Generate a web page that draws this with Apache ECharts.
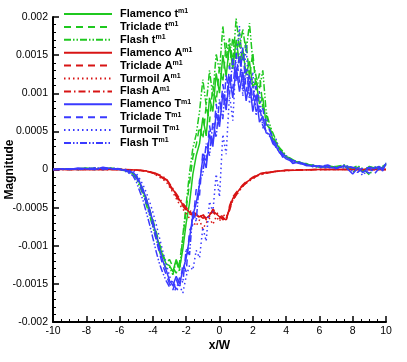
<!DOCTYPE html>
<html><head><meta charset="utf-8">
<script src="https://cdn.jsdelivr.net/npm/echarts@6/dist/echarts.min.js"></script>
<style>html,body{margin:0;padding:0;background:#fff}#c{width:407px;height:362px}</style>
</head><body><div id="c"></div>
<script>
// values in units of 1e-4
const SCALE = 1e-4;
const xT = [-10,-9.5,-9,-8.5,-8,-7.5,-7,-6.5,-6,
  -5.6,-5.2,
  -5.0,-4.8,-4.6,-4.4,-4.2,-4.0,-3.8,-3.6,-3.4,-3.2,
  -3.0,-2.8,-2.6,-2.4,-2.2,-2.0,-1.8,-1.6,-1.4,-1.2,
  -1.0,-0.8,-0.6,-0.4,-0.2,0,0.2,0.4,0.6,0.8,
  1.0,1.2,1.4,1.6,1.8,2.0,2.2,2.4,2.6,2.8,
  3.0,3.2,3.4,3.6,3.8,4.0,
  4.4,4.8,5.2,5.6,6.0,
  6.5,7.0,7.5,8.0,
  8.3,8.6,9.0,9.3,9.6,9.8,10];
const flamenco_t = [0,0.1,0,0.1,0.2,0,0.1,0.2,0,
  -0.2,-0.5,
  -0.9,-1.8,-2.8,-4.0,-5.4,-7.0,-8.6,-10.0,-11.4,-12.4,
  -12.6,-13.4,-11.8,-13.0,-10.4,-7.0,-4.4,-0.6,1.8,3.4,
  6.8,4.4,9.4,7.6,12.6,10.0,15.0,12.2,16.4,13.2,
  17.0,14.0,15.8,12.4,14.2,10.8,11.6,8.6,9.4,6.0,
  5.4,4.0,3.6,2.6,2.2,1.6,
  1.2,0.9,0.7,0.5,0.3,
  0.5,0.3,0.4,0.1,
  0.2,-0.3,0.4,0.2,0.1,0.3,0.6];
const triclade_t = [0.1,0,0.1,0,0.1,0.2,0,0.1,0.1,
  -0.1,-0.4,
  -0.8,-1.6,-2.6,-3.8,-5.2,-6.6,-8.2,-9.8,-11.2,-12.2,
  -11.8,-12.8,-13.6,-12.2,-9.0,-5.2,-1.8,1.6,3.2,5.6,
  4.0,8.4,6.2,11.0,8.8,13.4,11.4,16.6,13.4,17.4,
  14.2,18.0,14.0,16.8,12.0,15.4,10.4,12.6,8.2,7.2,
  5.6,4.4,3.4,3.0,2.0,1.8,
  1.1,1.0,0.6,0.6,0.3,
  0.4,0.2,0.5,-0.4,
  0.3,-0.2,0.3,0.1,0.4,0.2,0.7];
const flash_t = [0,0.1,0.1,0,0.1,0.1,0.2,0,0.1,
  -0.2,-0.6,
  -1.2,-2.2,-3.2,-4.6,-6.0,-7.6,-9.2,-10.8,-12.0,-13.0,
  -12.8,-13.8,-12.0,-13.4,-8.6,-4.6,-0.4,2.8,4.6,7.6,
  11.8,8.4,13.0,9.6,15.2,12.8,18.8,14.6,17.2,14.0,
  19.8,16.0,18.4,15.4,19.2,14.2,12.2,10.6,13.0,7.6,
  6.0,4.8,3.8,2.8,2.4,1.8,
  1.3,0.8,0.8,0.4,0.4,
  0.3,0.4,0.6,0.2,
  0.5,0.1,-0.7,0.3,0.2,0.4,0.8];
const flamenco_T = [0,0.1,0,0.2,0.1,0,0.3,0.1,0,
  -0.1,-0.4,
  -0.8,-1.6,-2.6,-3.8,-5.2,-6.8,-8.6,-10.4,-12.0,-13.2,
  -14.6,-15.2,-14.0,-15.0,-13.2,-11.6,-9.0,-6.0,-4.4,-2.0,
  1.6,0.2,4.6,3.0,7.4,5.6,10.0,7.8,12.2,9.4,
  13.4,10.2,12.8,9.0,11.6,7.6,9.8,6.2,7.0,4.8,
  4.6,3.4,3.0,2.2,1.8,1.4,
  1.0,0.8,0.6,0.4,0.5,
  0.3,0.2,0.5,-0.6,
  0.2,-0.4,0.3,0.1,0.4,-0.2,0.8];
const triclade_T = [0,0,0.1,0.1,0,0.2,0.1,0,0.1,
  -0.2,-0.6,
  -1.0,-2.0,-3.0,-4.4,-5.8,-7.4,-9.2,-11.0,-12.6,-13.8,
  -15.0,-15.8,-14.4,-15.6,-12.4,-13.4,-8.0,-7.2,-2.6,-3.4,
  2.4,0.8,5.8,3.2,8.6,6.0,11.2,8.4,13.6,10.6,
  15.2,11.4,16.0,10.2,12.6,9.0,11.0,7.4,8.0,5.6,
  5.2,4.2,3.2,2.6,2.0,1.6,
  1.2,0.9,0.7,0.5,0.4,
  0.6,0.2,0.4,0.3,
  -0.4,0.3,0.2,-0.6,0.2,0.5,0.6];
const turmoil_T = [0,0.1,0.1,0,0.2,0.1,0,0.1,0,
  0,-0.2,
  -0.5,-1.2,-2.0,-3.0,-4.2,-5.6,-7.2,-9.0,-10.8,-12.4,
  -14.0,-15.2,-16.0,-15.2,-16.2,-14.0,-12.6,-13.2,-10.6,-11.6,
  -7.6,-9.4,-4.2,-5.6,-0.6,-3.6,4.6,2.0,9.8,6.4,
  14.6,18.8,9.6,16.4,8.6,12.8,7.0,10.4,5.4,6.8,
  5.2,3.6,4.0,2.4,2.2,1.6,
  1.2,1.0,0.6,0.4,0.3,
  0.2,0.4,0.2,-0.2,
  0.1,-0.8,0.2,0.4,0,0.3,0.5];
const flash_T = [0,0,0.1,0,0.1,0.2,0.1,0.2,0.1,
  -0.3,-0.8,
  -1.6,-2.8,-4.0,-5.6,-7.2,-9.0,-10.8,-12.4,-13.6,-14.6,
  -15.4,-14.6,-15.8,-14.2,-14.8,-10.4,-11.2,-5.4,-6.8,-1.4,
  -0.6,3.4,1.8,6.2,4.2,9.2,6.6,12.4,9.8,14.6,
  11.6,15.2,10.4,13.2,9.6,11.0,7.6,8.4,5.8,5.0,
  4.4,3.8,2.8,2.4,1.6,1.8,
  0.8,1.0,0.5,0.6,0.3,
  0.4,0.1,0.6,0.2,
  0.3,0.1,-0.5,0.2,0.3,0.1,0.9];

const xA = [-10,-8,-6,-5,-4.5,-4,-3.6,-3.2,-2.8,-2.4,
  -2.0,-1.8,-1.6,-1.4,-1.2,-1.0,-0.8,-0.6,-0.4,-0.2,0,0.2,0.4,0.6,0.8,1.0,1.2,1.4,1.6,1.8,2.0,
  2.4,2.8,3.2,3.6,4,
  5,6,8,10];
const flamenco_A = [0,0,0,-0.05,-0.15,-0.4,-0.8,-1.3,-2.6,-4.0,
  -5.2,-5.6,-5.8,-6.0,-6.2,-6.0,-6.4,-6.0,-5.4,-5.8,-6.2,-6.4,-6.6,-5.0,-3.8,-3.2,-2.6,-2.1,-1.7,-1.4,-1.1,
  -0.6,-0.4,-0.3,-0.2,-0.12,
  -0.05,0,0,0];
const triclade_A = [0,0,0,-0.05,-0.2,-0.45,-0.9,-1.4,-2.8,-4.2,
  -5.4,-5.8,-6.0,-6.2,-6.0,-6.4,-6.2,-5.8,-5.6,-6.0,-6.4,-6.2,-6.8,-4.8,-3.6,-3.0,-2.5,-2.0,-1.6,-1.3,-1.0,
  -0.55,-0.4,-0.3,-0.18,-0.1,
  -0.04,0,0,0];
const turmoil_A = [0,0,0,-0.1,-0.2,-0.5,-1.0,-1.6,-3.0,-4.6,
  -5.8,-6.4,-6.8,-7.4,-6.6,-7.8,-7.0,-6.4,-7.2,-6.2,-6.8,-5.8,-6.4,-5.2,-4.0,-3.4,-2.8,-2.2,-1.8,-1.5,-1.2,
  -0.7,-0.5,-0.3,-0.2,-0.15,
  -0.05,0,0,0];
const flash_A = [0,0,0,-0.05,-0.15,-0.35,-0.7,-1.2,-2.5,-3.8,
  -5.0,-5.4,-5.6,-5.8,-6.4,-5.8,-6.6,-6.2,-5.2,-5.6,-6.0,-6.6,-6.2,-5.4,-4.0,-3.4,-2.7,-2.2,-1.8,-1.4,-1.2,
  -0.65,-0.5,-0.32,-0.2,-0.1,
  -0.05,0,0,0];

const GREEN = '#1fc81f', RED = '#d81414', BLUE = '#3a3aff';
const SOLID = 'solid', DASH = [7,5], DOT = [1.5,3], DASHDOT = [7,3,1.5,3], DASHDOTDOT = [7,2,1.5,2,1.5,2];

const defs = [
  ['Flamenco t', xT, flamenco_t, GREEN, SOLID],
  ['Triclade t', xT, triclade_t, GREEN, DASH],
  ['Flash t', xT, flash_t, GREEN, DASHDOTDOT],
  ['Flamenco A', xA, flamenco_A, RED, SOLID],
  ['Triclade A', xA, triclade_A, RED, DASH],
  ['Turmoil A', xA, turmoil_A, RED, DOT],
  ['Flash A', xA, flash_A, RED, DASHDOT],
  ['Flamenco T', xT, flamenco_T, BLUE, SOLID],
  ['Triclade T', xT, triclade_T, BLUE, DASH],
  ['Turmoil T', xT, turmoil_T, BLUE, DOT],
  ['Flash T', xT, flash_T, BLUE, DASHDOTDOT]
];

const series = defs.map(([name, xs, ys, color, type]) => ({
  name, type: 'line', showSymbol: false, symbol: 'none', animation: false,
  data: xs.map((x, i) => [x, ys[i] * SCALE]),
  lineStyle: { color, width: 1.5, type },
  itemStyle: { color }
}));

const chart = echarts.init(document.getElementById('c'), null, { renderer: 'canvas' });
chart.setOption({
  animation: false,
  backgroundColor: '#fff',
  grid: { left: 53, right: 21, top: 17, bottom: 40, containLabel: false, outerBoundsMode: 'none' },
  legend: {
    orient: 'vertical', left: 63, top: 8, padding: 0, itemWidth: 48, itemHeight: 10, itemGap: 1.4,
    selectedMode: false,
    itemStyle: { opacity: 0, borderWidth: 0 },
    data: defs.map(d => d[0]),
    formatter: n => '{n|' + n + '}{s|m1}',
    textStyle: {
      rich: {
        n: { fontFamily: 'Liberation Sans', fontWeight: 'bold', fontSize: 11, color: '#000', lineHeight: 12, padding: [0,0,0,3] },
        s: { fontFamily: 'Liberation Sans', fontWeight: 'bold', fontSize: 7, color: '#000', lineHeight: 8, verticalAlign: 'top' }
      }
    }
  },
  xAxis: {
    type: 'value', min: -10, max: 10, interval: 2,
    name: 'x/W', nameLocation: 'middle', nameGap: 18, nameMoveOverlap: false,
    nameTextStyle: { fontFamily: 'Liberation Sans', fontWeight: 'bold', fontSize: 12, color: '#000' },
    axisLine: { onZero: false, lineStyle: { color: '#000', width: 2 } },
    axisTick: { inside: true, length: 6, lineStyle: { color: '#000', width: 1.5 } },
    minorTick: { show: true, splitNumber: 4, length: 3, lineStyle: { color: '#000', width: 1 } },
    splitLine: { show: false },
    axisLabel: { margin: 4, fontFamily: 'Liberation Sans', fontSize: 10.5, color: '#000' }
  },
  yAxis: {
    type: 'value', min: -0.002, max: 0.002, interval: 0.0005,
    name: 'Magnitude', nameLocation: 'middle', nameGap: 37, nameMoveOverlap: false,
    nameTextStyle: { fontFamily: 'Liberation Sans', fontWeight: 'bold', fontSize: 12, color: '#000' },
    axisLine: { show: true, onZero: false, lineStyle: { color: '#000', width: 2 } },
    axisTick: { show: true, inside: true, length: 6, lineStyle: { color: '#000', width: 1.5 } },
    minorTick: { show: true, splitNumber: 5, length: 3, lineStyle: { color: '#000', width: 1 } },
    splitLine: { show: false },
    axisLabel: { margin: 5, fontFamily: 'Liberation Sans', fontSize: 10.5, color: '#000',
      formatter: v => String(parseFloat(v.toFixed(4))) }
  },
  series
});
</script></body></html>
